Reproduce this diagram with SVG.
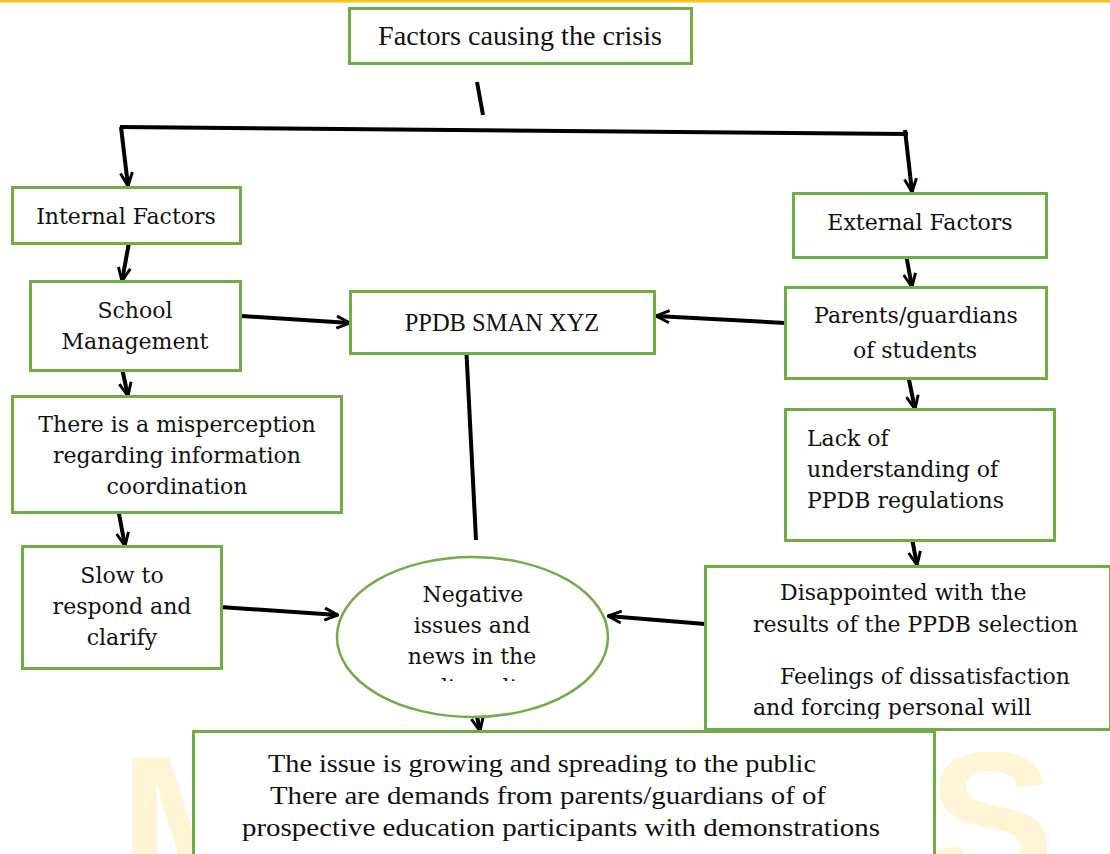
<svg xmlns="http://www.w3.org/2000/svg" width="1110" height="854" viewBox="0 0 1110 854">
<style>
.box{fill:#fff;stroke:#70AD47;stroke-width:3}
.t{font-family:"DejaVu Serif","Liberation Serif",serif;font-size:22px;fill:#111}
.c{text-anchor:middle}
.tm{font-family:"Liberation Serif",serif;fill:#111}
.ln{stroke:#000;stroke-width:4;fill:none}
.wm{font-family:"Liberation Sans",sans-serif;font-weight:bold;font-size:190px;fill:#FFF5D6}
</style>
<defs>
<marker id="ah" markerUnits="userSpaceOnUse" markerWidth="16" markerHeight="16" viewBox="0 0 12 12" refX="11" refY="6" orient="auto">
<path d="M1,1.5 L11,6 L1,10.5" fill="none" stroke="#000" stroke-width="2.2"/>
</marker>
<clipPath id="clipEll"><rect x="330" y="540" width="300" height="141"/></clipPath>
<clipPath id="clipDis"><rect x="705" y="566" width="405" height="153"/></clipPath>
</defs>
<rect x="0" y="0" width="1110" height="854" fill="#fff"/>
<rect x="0" y="0" width="1110" height="2.5" fill="#F5C518"/>
<g id="watermark">
<text class="wm" x="120" y="888">M</text>
<text class="wm" x="928" y="884">S</text>
</g>
<g id="connectors">
<line class="ln" x1="477" y1="82" x2="483" y2="115"/>
<line class="ln" x1="120" y1="127" x2="908" y2="134"/>
<line class="ln" x1="121" y1="127" x2="128" y2="186" marker-end="url(#ah)"/>
<line class="ln" x1="905" y1="130" x2="912" y2="192" marker-end="url(#ah)"/>
<line class="ln" x1="130" y1="237" x2="122" y2="281" marker-end="url(#ah)"/>
<line class="ln" x1="905" y1="249" x2="912" y2="287" marker-end="url(#ah)"/>
<line class="ln" x1="242" y1="316" x2="350" y2="323" marker-end="url(#ah)"/>
<line class="ln" x1="785" y1="323" x2="656" y2="316" marker-end="url(#ah)"/>
<line class="ln" x1="120" y1="359" x2="128" y2="396" marker-end="url(#ah)"/>
<line class="ln" x1="908" y1="375" x2="915" y2="409" marker-end="url(#ah)"/>
<line class="ln" x1="117" y1="503" x2="125" y2="546" marker-end="url(#ah)"/>
<line class="ln" x1="910" y1="528" x2="917" y2="565" marker-end="url(#ah)"/>
<line class="ln" x1="466" y1="344" x2="476" y2="540"/>
<line class="ln" x1="220" y1="607" x2="338" y2="615" marker-end="url(#ah)"/>
<line class="ln" x1="705" y1="624" x2="608" y2="616" marker-end="url(#ah)"/>
<line class="ln" x1="473" y1="697" x2="480" y2="731" marker-end="url(#ah)"/>
</g>
<g id="n-factors">
<rect class="box" x="349.5" y="8.5" width="342" height="55"/>
<text class="tm" x="378" y="45" font-size="27" textLength="284" lengthAdjust="spacingAndGlyphs">Factors causing the crisis</text>
</g>
<g id="n-internal">
<rect class="box" x="12.5" y="187.5" width="228" height="56"/>
<text class="t c" x="126" y="224">Internal Factors</text>
</g>
<g id="n-external">
<rect class="box" x="793.5" y="193.5" width="253" height="64"/>
<text class="t c" x="920" y="230">External Factors</text>
</g>
<g id="n-school">
<rect class="box" x="30.5" y="281.5" width="210" height="89"/>
<text class="t c" x="135" y="318">School</text>
<text class="t c" x="135" y="349">Management</text>
</g>
<g id="n-ppdb">
<rect class="box" x="350.5" y="291.5" width="304" height="62"/>
<text class="tm c" x="502" y="331" font-size="24.5">PPDB SMAN XYZ</text>
</g>
<g id="n-parents">
<rect class="box" x="785.5" y="287.5" width="261" height="91"/>
<text class="t c" x="916" y="323">Parents/guardians</text>
<text class="t c" x="915" y="358">of students</text>
</g>
<g id="n-misperception">
<rect class="box" x="12.5" y="396.5" width="329" height="116"/>
<text class="t c" x="177" y="432">There is a misperception</text>
<text class="t c" x="177" y="463">regarding information</text>
<text class="t c" x="177" y="494">coordination</text>
</g>
<g id="n-lack">
<rect class="box" x="785.5" y="409.5" width="269" height="131"/>
<text class="t" x="807" y="446">Lack of</text>
<text class="t" x="807" y="477">understanding of</text>
<text class="t" x="807" y="508">PPDB regulations</text>
</g>
<g id="n-slow">
<rect class="box" x="22.5" y="546.5" width="199" height="122"/>
<text class="t c" x="122" y="583">Slow to</text>
<text class="t c" x="122" y="614">respond and</text>
<text class="t c" x="122" y="645">clarify</text>
</g>
<g id="n-negative">
<ellipse cx="472.5" cy="637" rx="135.5" ry="80" fill="#fff" stroke="#70AD47" stroke-width="2.5"/>
<text class="t c" x="473" y="602">Negative</text>
<text class="t c" x="472" y="633">issues and</text>
<text class="t c" x="472" y="664">news in the</text>
<g clip-path="url(#clipEll)"><text class="t c" x="472" y="695">media online</text></g>
</g>
<g id="n-disappointed">
<rect class="box" x="705.5" y="566.5" width="405" height="163"/>
<g clip-path="url(#clipDis)">
<text class="t" x="780" y="600">Disappointed with the</text>
<text class="t" x="753" y="632">results of the PPDB selection</text>
<text class="t" x="780" y="684">Feelings of dissatisfaction</text>
<text class="t" x="753" y="715">and forcing personal will</text>
</g>
</g>
<g id="n-issue">
<rect class="box" x="193.5" y="731.5" width="741" height="130"/>
<text class="tm" x="268" y="772" font-size="25" textLength="548" lengthAdjust="spacingAndGlyphs">The issue is growing and spreading to the public</text>
<text class="tm" x="270" y="804" font-size="25" textLength="556" lengthAdjust="spacingAndGlyphs">There are demands from parents/guardians of of</text>
<text class="tm" x="242" y="836" font-size="25" textLength="638" lengthAdjust="spacingAndGlyphs">prospective education participants with demonstrations</text>
</g>
</svg>
